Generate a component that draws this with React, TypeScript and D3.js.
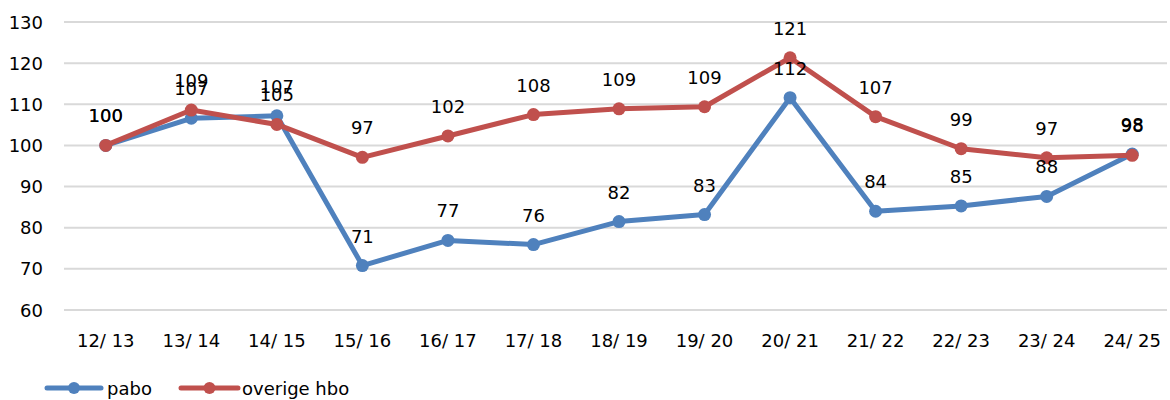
// @ts-nocheck
import React, { useEffect, useRef } from 'react';
import * as d3 from 'd3';

const categories = ['12/ 13', '13/ 14', '14/ 15', '15/ 16', '16/ 17', '17/ 18', '18/ 19', '19/ 20', '20/ 21', '21/ 22', '22/ 23', '23/ 24', '24/ 25'];
const pabo = [100, 106.6, 107.2, 70.8, 76.9, 75.9, 81.5, 83.2, 111.6, 84, 85.3, 87.6, 97.9];
const overigeHbo = [100, 108.6, 105.1, 97.1, 102.3, 107.5, 108.9, 109.4, 121.3, 107, 99.2, 97, 97.6];
const yTicks = [60, 70, 80, 90, 100, 110, 120, 130];

const seriesList = [
    { name: 'pabo', values: pabo, color: '#4F81BD' },
    { name: 'overige hbo', values: overigeHbo, color: '#C0504D' },
];

const width = 1170, height = 400;
const font = '"DejaVu Sans", sans-serif';

export default function App() {
    const ref = useRef(null);

    useEffect(() => {
        const svg = d3.select(ref.current);
        svg.selectAll('*').remove();

        const x = d3.scaleBand().domain(categories).range([63, 1175]);
        const y = d3.scaleLinear().domain([60, 130]).range([310, 22]);
        const cx = (c) => x(c) + x.bandwidth() / 2;

        /* Gridlines */
        svg.append('g')
            .selectAll('line')
            .data(yTicks)
            .join('line')
            .attr('x1', 64).attr('x2', 1167)
            .attr('y1', d => y(d)).attr('y2', d => y(d))
            .attr('stroke', '#d9d9d9')
            .attr('stroke-width', 2);

        /* Y labels */
        svg.append('g')
            .selectAll('text')
            .data(yTicks)
            .join('text')
            .attr('x', 43)
            .attr('y', d => y(d) + 6.5)
            .attr('text-anchor', 'end')
            .style('font', `18px ${font}`)
            .text(d => d);

        /* X labels */
        svg.append('g')
            .selectAll('text')
            .data(categories)
            .join('text')
            .attr('x', d => cx(d))
            .attr('y', 347)
            .attr('text-anchor', 'middle')
            .style('font', `18px ${font}`)
            .text(d => d);

        const line = d3.line().x((d, i) => cx(categories[i])).y(d => y(d));

        /* Series */
        seriesList.forEach(s => {
            const g = svg.append('g');
            g.append('path')
                .attr('d', line(s.values))
                .attr('fill', 'none')
                .attr('stroke', s.color)
                .attr('stroke-width', 5)
                .attr('stroke-linejoin', 'round');
            g.selectAll('circle')
                .data(s.values)
                .join('circle')
                .attr('cx', (d, i) => cx(categories[i]))
                .attr('cy', d => y(d))
                .attr('r', 6.5)
                .attr('fill', s.color);
        });

        /* Data labels */
        seriesList.forEach(s => {
            svg.append('g')
                .selectAll('text')
                .data(s.values)
                .join('text')
                .attr('x', (d, i) => cx(categories[i]))
                .attr('y', d => y(d) - 23)
                .attr('text-anchor', 'middle')
                .style('font', `18px ${font}`)
                .text(d => Math.round(d));
        });

        /* Legend */
        const legend = [
            { ...seriesList[0], x0: 47, x1: 101, tx: 107 },
            { ...seriesList[1], x0: 181, x1: 238, tx: 242 },
        ];
        legend.forEach(l => {
            svg.append('line')
                .attr('x1', l.x0).attr('x2', l.x1)
                .attr('y1', 388).attr('y2', 388)
                .attr('stroke', l.color).attr('stroke-width', 5)
                .attr('stroke-linecap', 'round');
            svg.append('circle')
                .attr('cx', (l.x0 + l.x1) / 2).attr('cy', 388)
                .attr('r', 6).attr('fill', l.color);
            svg.append('text')
                .attr('x', l.tx).attr('y', 395)
                .style('font', `18px ${font}`)
                .text(l.name);
        });
    }, []);

    return (
        <svg ref={ref} width={width} height={height}
            style={{ position: 'absolute', left: 0, top: 0, background: '#fff' }} />
    );
}
